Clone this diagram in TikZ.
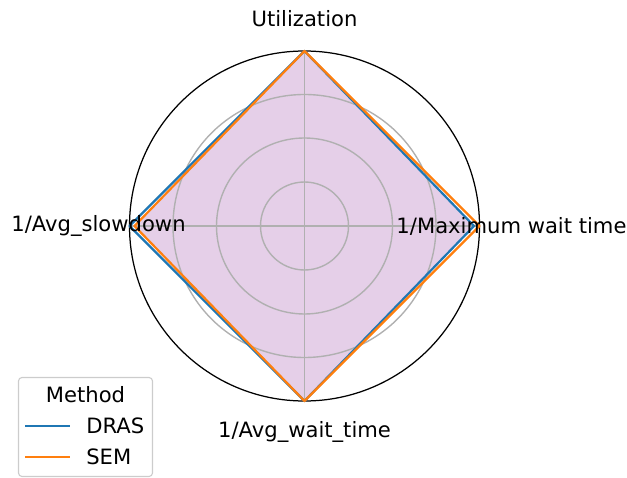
\documentclass[tikz,border=0pt]{standalone}
\usepackage{fontspec}
\setmainfont{DejaVu Sans}

\definecolor{dras}{HTML}{1F77B4}
\definecolor{sem}{HTML}{FF7F0E}
\definecolor{area}{RGB}{229,207,232}
\definecolor{gridgray}{HTML}{B0B0B0}

\tikzset{
  ring/.style={draw=gridgray, line width=1pt},
  series/.style={line width=1.6pt, line join=round},
  axislabel/.style={inner sep=0pt},
}

\begin{document}
\begin{tikzpicture}[x=0.72pt, y=-0.72pt, font=\fontsize{15.2}{17}\selectfont]
\useasboundingbox (0,0) rectangle (627,478);
\coordinate (c) at (304.5,226);
% axis ends on the outer circle
\coordinate (top) at (304.5,51);
\coordinate (bot) at (304.5,401);
\coordinate (lft) at (129.5,226);
\coordinate (rgt) at (479.5,226);
% series vertices
\coordinate (dras-t) at (304.5,51);
\coordinate (dras-r) at (474,226);
\coordinate (dras-b) at (304.5,401);
\coordinate (dras-l) at (129.5,226);
\coordinate (sem-t) at (304.5,51);
\coordinate (sem-r) at (479.5,226);
\coordinate (sem-b) at (304.5,401);
\coordinate (sem-l) at (134.5,226);

% shaded area
\fill[area] (dras-t) -- (dras-r) -- (dras-b) -- (sem-l) -- cycle;

% grid
\draw[ring] (c) circle (31.68pt);
\draw[ring] (c) circle (63.36pt);
\draw[ring] (c) circle (94.68pt);
\draw[ring] (top) -- (bot);
\draw[ring] (lft) -- (rgt);
\draw[black, line width=0.9pt] (c) circle (126pt);

% the two methods
\draw[series, dras] (dras-t) -- (dras-r) -- (dras-b) -- (dras-l) -- cycle;
\draw[series, sem] (sem-t) -- (sem-r) -- (sem-b) -- (sem-l) -- cycle;

% axis labels
\node[axislabel] (util) at (304.5,19) {Utilization};
\node[axislabel] (maxwait) at (511.5,226) {1/Maximum wait time};
\node[axislabel] (slow) at (98.5,226) {1/Avg\_slowdown};
\node[axislabel] (wait) at (304.5,432) {1/Avg\_wait\_time};

% legend
\draw[draw=gray!40, fill=white, fill opacity=0.8, rounded corners=2.5pt, line width=0.8pt]
  (18.5,377.5) rectangle (152.5,476.5);
\node[axislabel] (legtitle) at (85.5,395) {Method};
\coordinate (d1) at (25,426);
\coordinate (d2) at (70,426);
\coordinate (s1) at (25,457);
\coordinate (s2) at (70,457);
\draw[dras, line width=1.6pt] (d1) -- (d2);
\draw[sem, line width=1.6pt] (s1) -- (s2);
\node[axislabel, anchor=west] (legdras) at (86,426) {DRAS};
\node[axislabel, anchor=west] (legsem) at (86,457) {SEM};
\end{tikzpicture}
\end{document}
